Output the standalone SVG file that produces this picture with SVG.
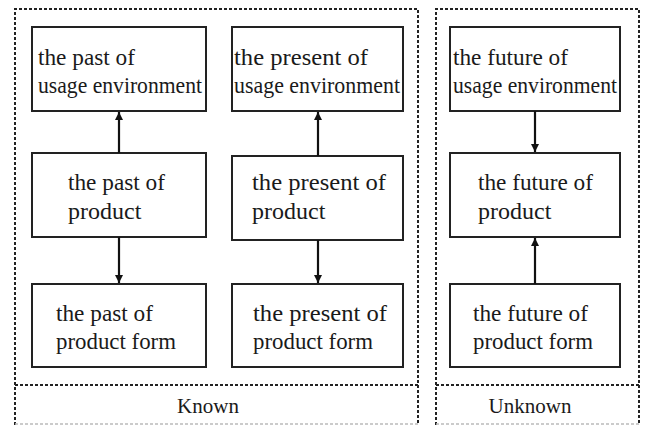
<svg xmlns="http://www.w3.org/2000/svg" width="645" height="426" viewBox="0 0 645 426">
  <style>
    .panel { fill: none; stroke: #222; stroke-width: 2; stroke-dasharray: 3 2; }
    .panel-edge { fill: none; stroke: #bbb; stroke-width: 1.5; stroke-dasharray: 3 2; }
    .node rect { fill: #fff; stroke: #222; stroke-width: 2; }
    .node text, .caption { font-family: "Liberation Serif", "Times New Roman", serif; font-size: 24px; fill: #1a1a1a; }
    .caption { font-size: 21px; }
    .link { stroke: #111; stroke-width: 2.2; fill: none; marker-end: url(#arrow); }
  </style>
  <defs>
    <marker id="arrow" viewBox="0 0 8 10" refX="8" refY="5" markerWidth="8" markerHeight="10" markerUnits="userSpaceOnUse" orient="auto">
      <path d="M0,1 L8,5 L0,9 Z" fill="#111"/>
    </marker>
  </defs>

  <!-- panels -->
  <g id="panel-known">
    <path class="panel" d="M15,425 V9 H418 V425"/>
    <line class="panel" x1="15" y1="385" x2="418" y2="385"/>
    <line class="panel-edge" x1="15" y1="424" x2="418" y2="424"/>
    <text class="caption" x="208" y="413" text-anchor="middle">Known</text>
  </g>
  <g id="panel-unknown">
    <path class="panel" d="M436,425 V9 H639 V425"/>
    <line class="panel" x1="436" y1="385" x2="639" y2="385"/>
    <line class="panel-edge" x1="436" y1="424" x2="639" y2="424"/>
    <text class="caption" x="530" y="413" text-anchor="middle">Unknown</text>
  </g>

  <!-- past column -->
  <g id="past-usage" class="node">
    <rect x="32" y="27" width="174" height="84"/>
    <text x="38" y="65" textLength="97" lengthAdjust="spacingAndGlyphs">the past of</text>
    <text x="38" y="93" textLength="164" lengthAdjust="spacingAndGlyphs">usage environment</text>
  </g>
  <g id="past-product" class="node">
    <rect x="32" y="153" width="174" height="84"/>
    <text x="68" y="190" textLength="97" lengthAdjust="spacingAndGlyphs">the past of</text>
    <text x="68" y="219">product</text>
  </g>
  <g id="past-form" class="node">
    <rect x="32" y="284" width="174" height="83"/>
    <text x="56" y="321" textLength="97" lengthAdjust="spacingAndGlyphs">the past of</text>
    <text x="56" y="349" textLength="120" lengthAdjust="spacingAndGlyphs">product form</text>
  </g>

  <!-- present column -->
  <g id="present-usage" class="node">
    <rect x="232" y="27" width="171" height="84"/>
    <text x="234" y="65" textLength="134" lengthAdjust="spacingAndGlyphs">the present of</text>
    <text x="234" y="93" textLength="166" lengthAdjust="spacingAndGlyphs">usage environment</text>
  </g>
  <g id="present-product" class="node">
    <rect x="232" y="156" width="171" height="84"/>
    <text x="252" y="190" textLength="134" lengthAdjust="spacingAndGlyphs">the present of</text>
    <text x="252" y="219">product</text>
  </g>
  <g id="present-form" class="node">
    <rect x="232" y="284" width="171" height="83"/>
    <text x="253" y="321" textLength="134" lengthAdjust="spacingAndGlyphs">the present of</text>
    <text x="253" y="349" textLength="120" lengthAdjust="spacingAndGlyphs">product form</text>
  </g>

  <!-- future column -->
  <g id="future-usage" class="node">
    <rect x="450" y="27" width="170" height="84"/>
    <text x="453" y="65" textLength="115" lengthAdjust="spacingAndGlyphs">the future of</text>
    <text x="453" y="93" textLength="164" lengthAdjust="spacingAndGlyphs">usage environment</text>
  </g>
  <g id="future-product" class="node">
    <rect x="450" y="153" width="170" height="84"/>
    <text x="478" y="190" textLength="115" lengthAdjust="spacingAndGlyphs">the future of</text>
    <text x="478" y="219">product</text>
  </g>
  <g id="future-form" class="node">
    <rect x="450" y="284" width="170" height="83"/>
    <text x="473" y="321" textLength="115" lengthAdjust="spacingAndGlyphs">the future of</text>
    <text x="473" y="349" textLength="120" lengthAdjust="spacingAndGlyphs">product form</text>
  </g>

  <!-- connectors -->
  <g id="connectors">
    <line class="link" x1="119" y1="153" x2="119" y2="112"/>
    <line class="link" x1="119" y1="237" x2="119" y2="283"/>
    <line class="link" x1="318" y1="156" x2="318" y2="112"/>
    <line class="link" x1="318" y1="240" x2="318" y2="283"/>
    <line class="link" x1="535" y1="111" x2="535" y2="152"/>
    <line class="link" x1="535" y1="284" x2="535" y2="238"/>
  </g>
</svg>
